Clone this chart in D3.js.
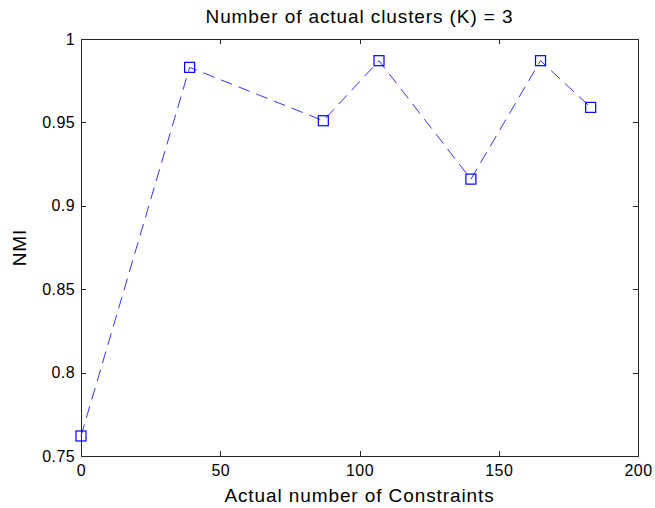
<!DOCTYPE html>
<meta charset="utf-8">
<head>
	<script src="https://d3js.org/d3.v7.min.js"></script>
	<style>
		body { margin: 0; background: #fff; }
		text { font-family: "Liberation Sans", Arial, sans-serif; fill: #000; }
		.axis path, .axis line { stroke: #262626; shape-rendering: crispEdges; }
	</style>
</head>
<body>
	<div id="chart"></div>
</body>
<script type="text/javascript">
	// data
	var constraints = [0, 39, 87, 107, 140, 165, 183];
	var nmi = [0.762, 0.983, 0.951, 0.987, 0.916, 0.987, 0.959];
	var xTicks = [0, 50, 100, 150, 200];
	var yTicks = [0.75, 0.8, 0.85, 0.9, 0.95, 1];

	var margin = {top: 39, right: 17, bottom: 52, left: 81},
		width = 655 - margin.left - margin.right,
		height = 508 - margin.top - margin.bottom;

	var svg = d3.select("#chart").append("svg")
		.attr("width", 655)
		.attr("height", 508);

	var g = svg.append("g")
		.attr("transform", "translate(" + margin.left + "," + margin.top + ")");

	var x = d3.scaleLinear().domain([0, 200]).range([0, width]);
	var y = d3.scaleLinear().domain([0.75, 1]).range([height, 0]);

	var fmt = function(d) { return d3.format("")(+d.toFixed(2)); };

	// bottom and left axes with labels, ticks pointing inward
	g.append("g").attr("class", "axis")
		.attr("transform", "translate(0," + height + ")")
		.call(d3.axisBottom(x).tickValues(xTicks).tickSizeInner(-5).tickSizeOuter(0).tickPadding(9).tickFormat(fmt));
	g.append("g").attr("class", "axis")
		.call(d3.axisLeft(y).tickValues(yTicks).tickSizeInner(-5).tickSizeOuter(0).tickPadding(6).tickFormat(fmt));
	// top and right axes, no labels
	g.append("g").attr("class", "axis")
		.call(d3.axisTop(x).tickValues(xTicks).tickSizeInner(-5).tickSizeOuter(0).tickFormat(""));
	g.append("g").attr("class", "axis")
		.attr("transform", "translate(" + width + ",0)")
		.call(d3.axisRight(y).tickValues(yTicks).tickSizeInner(-5).tickSizeOuter(0).tickFormat(""));

	g.selectAll(".axis text")
		.style("font-size", "16px")
		.style("letter-spacing", "0.4px")
		.style("fill", "#000");

	var pts = constraints.map(function(c, i) { return {x: c, y: nmi[i]}; });

	var line = d3.line()
		.x(function(d) { return x(d.x); })
		.y(function(d) { return y(d.y); });

	g.append("path")
		.datum(pts)
		.attr("d", line)
		.attr("fill", "none")
		.attr("stroke", "#3333ff")
		.attr("stroke-width", 1)
		.attr("stroke-dasharray", "12,7");

	g.selectAll(".mark")
		.data(pts)
		.enter().append("rect")
		.attr("class", "mark")
		.attr("x", function(d) { return x(d.x) - 5; })
		.attr("y", function(d) { return y(d.y) - 5; })
		.attr("width", 10)
		.attr("height", 10)
		.attr("fill", "none")
		.attr("stroke", "#0000ff")
		.attr("stroke-width", 1.2);

	svg.append("text")
		.attr("x", margin.left + width / 2)
		.attr("y", 23)
		.style("text-anchor", "middle")
		.style("font-size", "19px")
		.style("letter-spacing", "0.9px")
		.text("Number of actual clusters (K) = 3");

	svg.append("text")
		.attr("x", margin.left + width / 2)
		.attr("y", 502)
		.style("text-anchor", "middle")
		.style("font-size", "19px")
		.style("letter-spacing", "0.9px")
		.text("Actual number of Constraints");

	svg.append("text")
		.attr("transform", "translate(26," + (margin.top + height / 2) + ")rotate(-90)")
		.style("text-anchor", "middle")
		.style("font-size", "19px")
		.style("letter-spacing", "0.9px")
		.text("NMI");
</script>
